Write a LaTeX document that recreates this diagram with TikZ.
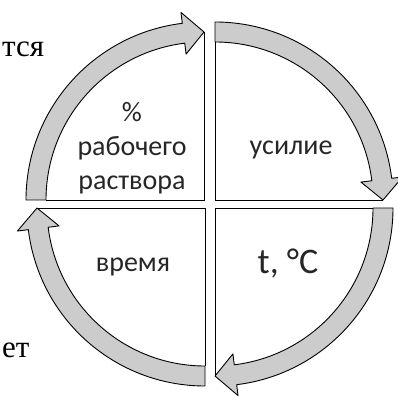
\documentclass[tikz,border=0pt]{standalone}
\usepackage{fontspec}
\setmainfont{Liberation Serif}
\newfontfamily\calibri{Carlito}
\usetikzlibrary{calc}

\begin{document}
\begin{tikzpicture}[x=1pt, y=1pt,
    band/.style={draw=black, line width=0.9pt, fill=black!20, line join=round},
    rim/.style={draw=black, line width=0.9pt},
    qtext/.style={font=\calibri\fontsize{28}{34}\selectfont, inner sep=0pt, align=center, text=black!85},
    pagetext/.style={font=\fontsize{31}{40}\selectfont, inner sep=0pt}
]
\useasboundingbox (0,0) rectangle (398,398);

% quadrants: name/corner x/corner y/start angle of the arrow
\foreach \n/\cx/\cy/\a in {tl/204/198/180, tr/215/198/90, br/215/190/0, bl/205/190/-90}{
    \coordinate (\n) at (\cx,\cy);
    \pgfmathsetmacro\endang{\a-90}
    \pgfmathsetmacro\headang{\a-83}
    \draw[rim] ($(\n)+(\a:158)$) -- (\n) -- ($(\n)+(\endang:168)$);
    \draw[band] ($(\n)+(\a:178)$) arc[start angle=\a, end angle=\headang, radius=178]
        -- ($(\n)+(\headang:189)$) -- ($(\n)+(\endang:168)$) -- ($(\n)+(\headang:147)$)
        -- ($(\n)+(\headang:158)$) arc[start angle=\headang, end angle=\a, radius=158] -- cycle;
}

\node[qtext] (conc) at (132,250) {\%\\рабочего\\раствора};
\node[qtext, anchor=base] (force) at (291,243) {усилие};
\node[qtext, anchor=base] (time) at (133,126) {время};
\node[qtext, font=\calibri\fontsize{36}{40}\selectfont, anchor=base] (temp) at (288,124) {t, °C};

\node[pagetext, anchor=base west] (tsya) at (2,341) {тся};
\node[pagetext, anchor=base west] (et) at (2,40) {ет};
\end{tikzpicture}
\end{document}
